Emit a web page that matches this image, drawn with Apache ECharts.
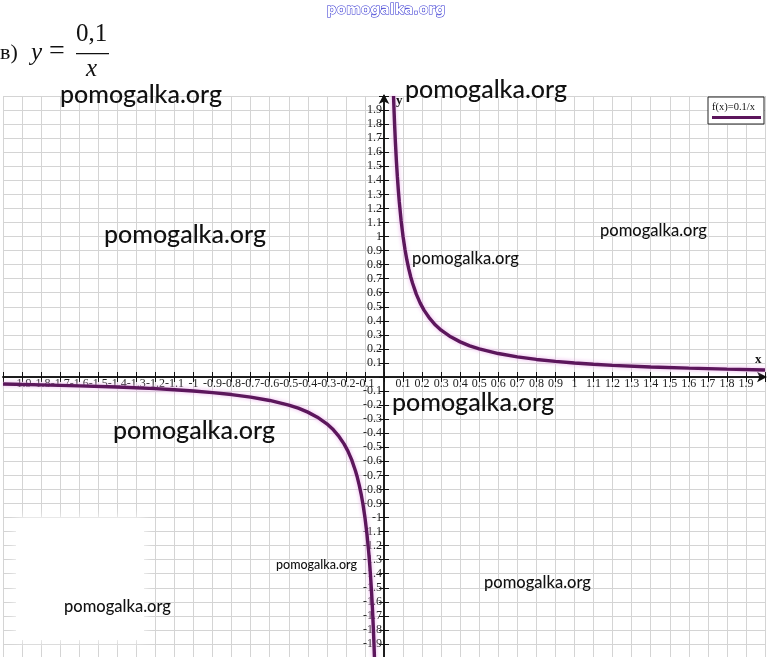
<!DOCTYPE html>
<html><head><meta charset="utf-8">
<script src="https://cdn.jsdelivr.net/npm/echarts@6/dist/echarts.min.js"></script>
<style>html,body{margin:0;padding:0;background:#fff}#c{width:767px;height:657px}</style>
</head><body><div id="c"></div>
<script>
// Axis ranges / tick step
const xRange = [-2, 2];
const yRange = [-2, 2];
const tickStep = 0.1;

// f(x) = 0.1/x: positive branch
const xPos = [0.05, 0.053, 0.056, 0.06, 0.065, 0.07, 0.075, 0.08, 0.09, 0.1, 0.11, 0.12, 0.13, 0.14, 0.15, 0.17, 0.19, 0.21, 0.24, 0.27, 0.3, 0.35, 0.4, 0.45, 0.5, 0.6, 0.7, 0.8, 0.9, 1, 1.1, 1.2, 1.4, 1.6, 1.8, 2];
const yPos = [2, 1.887, 1.786, 1.667, 1.538, 1.429, 1.333, 1.25, 1.111, 1, 0.909, 0.833, 0.769, 0.714, 0.667, 0.588, 0.526, 0.476, 0.417, 0.37, 0.333, 0.286, 0.25, 0.222, 0.2, 0.167, 0.143, 0.125, 0.111, 0.1, 0.091, 0.083, 0.071, 0.063, 0.056, 0.05];
// negative branch
const xNeg = [-2, -1.8, -1.6, -1.4, -1.2, -1.1, -1, -0.9, -0.8, -0.7, -0.6, -0.5, -0.45, -0.4, -0.35, -0.3, -0.27, -0.24, -0.21, -0.19, -0.17, -0.15, -0.14, -0.13, -0.12, -0.11, -0.1, -0.09, -0.08, -0.075, -0.07, -0.065, -0.06, -0.056, -0.053, -0.05];
const yNeg = [-0.05, -0.056, -0.063, -0.071, -0.083, -0.091, -0.1, -0.111, -0.125, -0.143, -0.167, -0.2, -0.222, -0.25, -0.286, -0.333, -0.37, -0.417, -0.476, -0.526, -0.588, -0.667, -0.714, -0.769, -0.833, -0.909, -1, -1.111, -1.25, -1.333, -1.429, -1.538, -1.667, -1.786, -1.887, -2];

const seriesName = 'f(x)=0.1/x';
const watermark = 'pomogalka.org';

const chart = echarts.init(document.getElementById('c'), null, {renderer: 'canvas'});
const lineColor = '#5c165c';
const gridColor = '#d4d4d4';
const axisColor = '#111';
const serif = '"Liberation Serif", "DejaVu Serif", serif';

const gridW = 762, gridH = 562;

function fmt(v) {
  if (Math.abs(v) < 1e-9 || Math.abs(Math.abs(v) - 2) < 1e-9) return '';
  return String(+v.toFixed(1));
}

const baseX = {
  type: 'value', min: xRange[0], max: xRange[1], interval: tickStep,
  splitLine: {show: false}, offset: -gridH / 2
};
const baseY = {
  type: 'value', min: yRange[0], max: yRange[1], interval: tickStep,
  splitLine: {show: false}, offset: -gridW / 2
};

function pairs(xs, ys) { return xs.map((x, i) => [x, ys[i]]); }

function wm(x, y, size, extra) {
  return Object.assign({type: 'text', left: x, top: y, z: 100,
    style: {text: watermark, font: '500 ' + size + 'px Lato, "Open Sans", sans-serif', fill: '#111'}}, extra || {});
}

chart.setOption({
  animation: false,
  grid: {left: 3, right: 2, top: 96, height: gridH, containLabel: false, outerBoundsMode: 'none'},
  xAxis: [
    Object.assign({}, baseX, {
      position: 'bottom',
      axisLine: {onZero: false, symbol: ['none', 'arrow'], symbolSize: [8, 10], symbolOffset: [0, 2], lineStyle: {color: axisColor, width: 1.5}},
      axisTick: {show: true, length: 5, lineStyle: {color: axisColor}},
      axisLabel: {show: true, formatter: fmt, margin: 1, fontFamily: serif, fontSize: 12, color: '#222'},
      splitLine: {show: true, lineStyle: {color: gridColor, width: 1}}
    }),
    Object.assign({}, baseX, {
      position: 'top',
      axisLine: {onZero: false, lineStyle: {color: axisColor, width: 1.5}},
      axisTick: {show: true, length: 5, lineStyle: {color: axisColor}},
      axisLabel: {show: false}
    })
  ],
  yAxis: [
    Object.assign({}, baseY, {
      position: 'left',
      axisLine: {onZero: false, symbol: ['none', 'arrow'], symbolSize: [8, 10], symbolOffset: [0, 2], lineStyle: {color: axisColor, width: 1.5}},
      axisTick: {show: true, length: 5, lineStyle: {color: axisColor}},
      axisLabel: {show: true, formatter: fmt, margin: 2, fontFamily: serif, fontSize: 12, color: '#222'},
      splitLine: {show: true, lineStyle: {color: gridColor, width: 1}}
    }),
    Object.assign({}, baseY, {
      position: 'right',
      axisLine: {onZero: false, lineStyle: {color: axisColor, width: 1.5}},
      axisTick: {show: true, length: 5, lineStyle: {color: axisColor}},
      axisLabel: {show: false}
    })
  ],
  series: [
    {name: seriesName, type: 'line', xAxisIndex: 0, yAxisIndex: 0, data: pairs(xPos, yPos),
     smooth: false, showSymbol: false, clip: true,
     lineStyle: {color: lineColor, width: 3.4, shadowColor: '#eab0ea', shadowBlur: 4}},
    {name: seriesName, type: 'line', xAxisIndex: 0, yAxisIndex: 0, data: pairs(xNeg, yNeg),
     smooth: false, showSymbol: false, clip: true,
     lineStyle: {color: lineColor, width: 3.4, shadowColor: '#eab0ea', shadowBlur: 4}}
  ],
  graphic: [
    // white erased patch bottom-left
    {type: 'rect', shape: {x: 16, y: 518, width: 128, height: 122}, style: {fill: '#fff', shadowColor: '#fff', shadowBlur: 10}, z: 5},
    // title
    {type: 'text', left: 0, top: 42, z: 100, style: {text: 'в)', font: '22px ' + serif, fill: '#111'}},
    {type: 'text', left: 31, top: 41, z: 100, style: {text: 'y', font: 'italic 25px ' + serif, fill: '#111'}},
    {type: 'text', left: 49, top: 38, z: 100, style: {text: '=', font: '28px ' + serif, fill: '#111'}},
    {type: 'text', left: 76, top: 22, z: 100, style: {text: '0,1', font: '25px ' + serif, fill: '#111'}},
    {type: 'rect', z: 100, shape: {x: 76, y: 53, width: 33, height: 1.3}, style: {fill: '#111'}},
    {type: 'text', left: 86, top: 57, z: 100, style: {text: 'x', font: 'italic 25px ' + serif, fill: '#111'}},
    // top blue outlined watermark
    {type: 'text', left: 326, top: 3, z: 100, style: {text: watermark, font: 'bold 14px "DejaVu Sans", sans-serif', fill: '#fff', stroke: '#2b2bd0', lineWidth: 1}},
    // axis names
    {type: 'text', left: 755, top: 353, z: 100, style: {text: 'x', font: 'bold 13px ' + serif, fill: '#111'}},
    {type: 'text', left: 396, top: 94, z: 100, style: {text: 'y', font: 'bold 13px ' + serif, fill: '#111'}},
    // legend box
    {type: 'rect', z: 90, shape: {x: 708, y: 97, width: 56, height: 27}, style: {fill: '#fff', stroke: '#222', lineWidth: 1}},
    {type: 'text', left: 712, top: 102, z: 91, style: {text: seriesName, font: '10.5px ' + serif, fill: '#111'}},
    {type: 'rect', z: 91, shape: {x: 712, y: 116, width: 49, height: 3}, style: {fill: lineColor}},
    // watermarks
    wm(60, 82, 25), wm(405, 77, 25), wm(104, 222, 25), wm(600, 222, 16.5),
    wm(412, 250, 16.5), wm(392, 390, 25), wm(113, 418, 25), wm(276, 558, 12.5),
    wm(484, 574, 16.5), wm(64, 598, 16.5)
  ]
});
</script></body></html>
